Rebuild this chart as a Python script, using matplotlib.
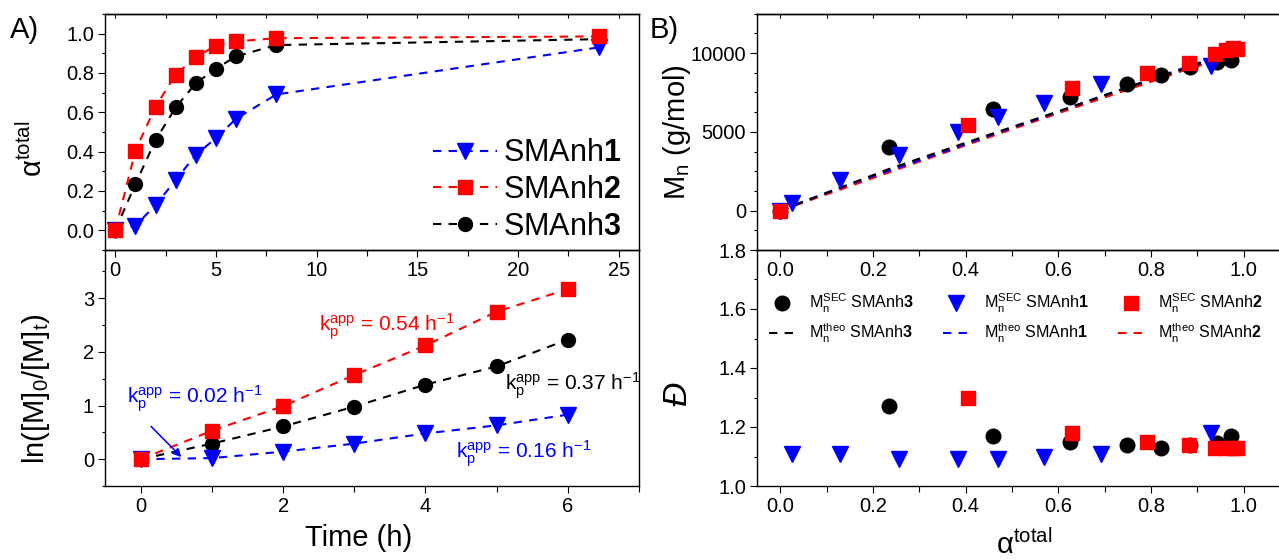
import numpy as np
import matplotlib
matplotlib.use("Agg")
import matplotlib.pyplot as plt
from matplotlib.ticker import MultipleLocator, FormatStrFormatter

plt.rcParams['font.family'] = ['Liberation Sans', 'DejaVu Sans']
plt.rcParams['mathtext.fontset'] = 'custom'
plt.rcParams['mathtext.rm'] = 'Liberation Sans'
plt.rcParams['mathtext.it'] = 'Liberation Sans:italic'
plt.rcParams['mathtext.bf'] = 'Liberation Sans:bold'

# reaction time (h) for the conversion samples
time_h = [0, 1, 2, 3, 4, 5, 6, 8, 24]

# total conversion of each copolymerisation
alpha_1 = [0.0, 0.024, 0.128, 0.256, 0.384, 0.469, 0.568, 0.691, 0.930]
alpha_2 = [0.0, 0.405, 0.629, 0.792, 0.881, 0.939, 0.961, 0.977, 0.986]
alpha_3 = [0.0, 0.235, 0.459, 0.625, 0.748, 0.822, 0.885, 0.942, 0.972]

# first-order kinetics, 0-6 h
kin_time = [0, 1, 2, 3, 4, 5, 6]
ln_1 = [0.0, 0.02, 0.14, 0.29, 0.48, 0.63, 0.83]
ln_2 = [0.0, 0.53, 0.99, 1.57, 2.12, 2.75, 3.17]
ln_3 = [0.0, 0.29, 0.61, 0.98, 1.39, 1.73, 2.23]

# apparent rate constants (h^-1)
kp_1_early = 0.02
kp_1 = 0.16
kp_2 = 0.54
kp_3 = 0.37

# molar mass from SEC and theoretical values (g/mol)
mn_sec_1 = [0, 470, 1950, 3540, 4960, 5930, 6860, 8050, 9190]
mn_sec_2 = [0, 5450, 7770, 8730, 9370, 9960, 10200, 10300, 10230]
mn_sec_3 = [0, 4070, 6440, 7200, 8050, 8620, 9090, 9450, 9570]
mn_theo_1 = [0, 300, 1450, 2750, 4050, 4950, 5950, 7250, 9650]
mn_theo_2 = [0, 4200, 6480, 8100, 9000, 9500, 9720, 9870, 9970]
mn_theo_3 = [0, 2650, 4900, 6550, 7800, 8500, 9150, 9650, 9950]

# dispersity (samples with alpha > 0)
disp_1 = [1.11, 1.11, 1.09, 1.09, 1.09, 1.10, 1.11, 1.18]
disp_2 = [1.30, 1.18, 1.15, 1.14, 1.13, 1.13, 1.13, 1.13]
disp_3 = [1.27, 1.17, 1.15, 1.14, 1.13, 1.14, 1.145, 1.17]

BLUE, RED, BLACK = '#0000FF', '#FF0000', '#000000'
DASH = (4, 3.5)
TICK_FS = 14.5
ALPHA_LABEL = r'$\mathrm{\alpha}^{\mathrm{total}}$'

W, H = 1279, 560
fig = plt.figure(figsize=(W / 100, H / 100), dpi=100)


def add_axes_px(x0, y0, x1, y1):
    return fig.add_axes([x0 / W, 1 - y1 / H, (x1 - x0) / W, (y1 - y0) / H])


def style_axes(ax, xmaj, xmin, ymaj, ymin, top_in=True):
    ax.xaxis.set_major_locator(MultipleLocator(xmaj))
    ax.xaxis.set_minor_locator(MultipleLocator(xmin))
    ax.yaxis.set_major_locator(MultipleLocator(ymaj))
    ax.yaxis.set_minor_locator(MultipleLocator(ymin))
    ax.tick_params(which='both', direction='out', labelsize=TICK_FS,
                   width=0.8, pad=3, top=False, right=False)
    ax.tick_params(axis='x', which='major', length=5)
    ax.tick_params(axis='x', which='minor', length=4.5)
    ax.tick_params(axis='y', which='major', length=5)
    ax.tick_params(axis='y', which='minor', length=2.5)
    for sp in ax.spines.values():
        sp.set_linewidth(1.0)
    if top_in:
        sec = ax.secondary_xaxis('top')
        sec.xaxis.set_major_locator(MultipleLocator(xmin))
        sec.tick_params(direction='in', length=3, width=0.8, labeltop=False)
        sec.spines['top'].set_linewidth(1.0)


def kp_label(k):
    return (r'$\mathrm{k}_\mathrm{p}^\mathrm{app}$ = ' + f'{k:.2f}'
            + r' h$^\mathrm{-1}$')


ax_a = add_axes_px(105.2, 14, 639, 250)
ax_k = add_axes_px(105.2, 250, 639, 486)
ax_m = add_axes_px(757.3, 13.7, 1290, 250)
ax_d = add_axes_px(757.3, 250, 1290, 486)

# upper axes sit on top so their tick labels show over the lower panels
for ax in (ax_a, ax_m):
    ax.set_zorder(3)
    ax.patch.set_alpha(0)

# ---- A) conversion vs time ----
l3, = ax_a.plot(time_h, alpha_3, color=BLACK, ls='--', dashes=DASH, lw=1.5,
                marker='o', ms=10, label='SMAnh$\\mathbf{3}$')
l1, = ax_a.plot(time_h, alpha_1, color=BLUE, ls='--', dashes=DASH, lw=1.5,
                marker='v', ms=11.5, label='SMAnh$\\mathbf{1}$')
l2, = ax_a.plot(time_h, alpha_2, color=RED, ls='--', dashes=DASH, lw=1.5,
                marker='s', ms=9.5, label='SMAnh$\\mathbf{2}$')
ax_a.set_xlim(-0.5, 26)
ax_a.set_ylim(-0.1, 1.1)
style_axes(ax_a, 5, 2.5, 0.2, 0.1)
ax_a.yaxis.set_major_formatter(FormatStrFormatter('%.1f'))
ax_a.set_ylabel(ALPHA_LABEL, fontsize=21)
ax_a.yaxis.set_label_coords(-0.108, 0.43)
ax_a.legend(handles=[l1, l2, l3], loc='center left',
            bbox_to_anchor=(0.614, 0.254), frameon=False, fontsize=22,
            handlelength=2.1, handletextpad=0.2, labelspacing=0.22,
            borderpad=0, borderaxespad=0, numpoints=1)

# ---- A) first-order kinetic plot ----
ax_k.plot(kin_time, ln_3, color=BLACK, ls='--', dashes=DASH, lw=1.5,
          marker='o', ms=10)
ax_k.plot(kin_time, ln_1, color=BLUE, ls='--', dashes=DASH, lw=1.5,
          marker='v', ms=11.5)
ax_k.plot(kin_time, ln_2, color=RED, ls='--', dashes=DASH, lw=1.5,
          marker='s', ms=9.5)
ax_k.set_xlim(-0.5, 7)
ax_k.set_ylim(-0.5, 3.9)
style_axes(ax_k, 2, 1, 1, 0.5, top_in=False)
ax_k.set_ylabel(r'ln([M]$_\mathrm{0}$/[M]$_\mathrm{t}$)', fontsize=21)
ax_k.yaxis.set_label_coords(-0.1, 0.41)
ax_k.set_xlabel('Time (h)', fontsize=21)
ax_k.xaxis.set_label_coords(0.474, -0.16)

ax_k.text(2.5, 2.38, kp_label(kp_2), color=RED, fontsize=15,
          ha='left', va='baseline')
ax_k.text(5.12, 1.29, kp_label(kp_3), color=BLACK, fontsize=15,
          ha='left', va='baseline')
ax_k.text(-0.2, 1.04, kp_label(kp_1_early), color=BLUE, fontsize=15,
          ha='left', va='baseline')
ax_k.text(4.43, 0.02, kp_label(kp_1), color=BLUE, fontsize=15,
          ha='left', va='baseline')
ax_k.annotate('', xy=(0.57, 0.04), xytext=(0.145, 0.61),
              arrowprops=dict(arrowstyle='-|>', color=BLUE, lw=1.1,
                              mutation_scale=12, shrinkA=0, shrinkB=0))

# ---- B) molar mass vs conversion ----
t2, = ax_m.plot(alpha_2, mn_theo_2, color=RED, ls='--', dashes=DASH, lw=1.5,
                label=r'$\mathrm{M}_\mathrm{n}^\mathrm{theo}$ SMAnh$\mathbf{2}$')
t1, = ax_m.plot(alpha_1, mn_theo_1, color=BLUE, ls='--', dashes=DASH, lw=1.5,
                label=r'$\mathrm{M}_\mathrm{n}^\mathrm{theo}$ SMAnh$\mathbf{1}$')
t3, = ax_m.plot(alpha_3, mn_theo_3, color=BLACK, ls='--', dashes=DASH, lw=1.5,
                label=r'$\mathrm{M}_\mathrm{n}^\mathrm{theo}$ SMAnh$\mathbf{3}$')
s3, = ax_m.plot(alpha_3, mn_sec_3, color=BLACK, ls='none', marker='o', ms=10.5,
                label=r'$\mathrm{M}_\mathrm{n}^\mathrm{SEC}$ SMAnh$\mathbf{3}$')
s1, = ax_m.plot(alpha_1, mn_sec_1, color=BLUE, ls='none', marker='v', ms=12,
                label=r'$\mathrm{M}_\mathrm{n}^\mathrm{SEC}$ SMAnh$\mathbf{1}$')
s2, = ax_m.plot(alpha_2, mn_sec_2, color=RED, ls='none', marker='s', ms=9.5,
                label=r'$\mathrm{M}_\mathrm{n}^\mathrm{SEC}$ SMAnh$\mathbf{2}$')
ax_m.set_xlim(-0.05, 1.1)
ax_m.set_ylim(-2500, 12500)
style_axes(ax_m, 0.2, 0.1, 5000, 1250)
ax_m.set_ylabel(r'$\mathrm{M}_\mathrm{n}$ (g/mol)', fontsize=21)
ax_m.yaxis.set_label_coords(-0.12, 0.5)
ax_m.xaxis.set_major_formatter(FormatStrFormatter('%.1f'))

# ---- B) dispersity vs conversion ----
ax_d.plot(alpha_3[1:], disp_3, color=BLACK, ls='none', marker='o', ms=10.5)
ax_d.plot(alpha_1[1:], disp_1, color=BLUE, ls='none', marker='v', ms=12)
ax_d.plot(alpha_2[1:], disp_2, color=RED, ls='none', marker='s', ms=9.5)
ax_d.set_xlim(-0.05, 1.1)
ax_d.set_ylim(1.0, 1.8)
style_axes(ax_d, 0.2, 0.1, 0.2, 0.1, top_in=False)
ax_d.xaxis.set_major_formatter(FormatStrFormatter('%.1f'))
ax_d.yaxis.set_major_formatter(FormatStrFormatter('%.1f'))
ax_d.set_ylabel('Đ', fontsize=24, fontstyle='italic')
ax_d.yaxis.set_label_coords(-0.12, 0.39)
ax_d.set_xlabel(ALPHA_LABEL, fontsize=21)
ax_d.xaxis.set_label_coords(0.5, -0.185)
ax_d.legend(handles=[s3, t3, s1, t1, s2, t2], ncol=3, loc='center left',
            bbox_to_anchor=(0.022, 0.71), frameon=False, fontsize=11.6,
            handlelength=1.6, handletextpad=0.9, columnspacing=1.8,
            labelspacing=0.45, borderpad=0, borderaxespad=0, numpoints=1)

fig.text(10 / W, 1 - 38 / H, 'A)', fontsize=21, va='baseline')
fig.text(650 / W, 1 - 38 / H, 'B)', fontsize=21, va='baseline')

fig.savefig('out.png', dpi=100)
